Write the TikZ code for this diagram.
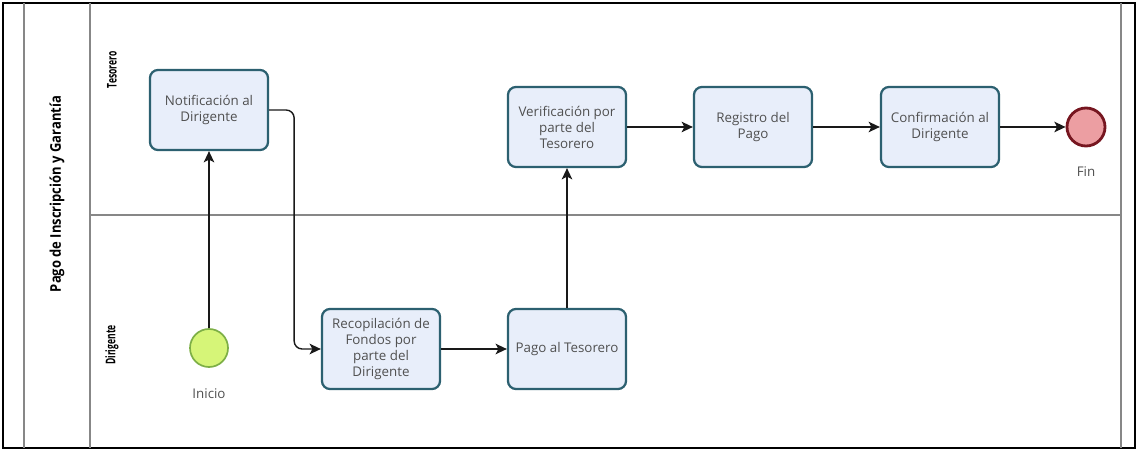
\documentclass[tikz,border=0pt]{standalone}
\usepackage{fontspec}
\setmainfont{Open Sans}
\usetikzlibrary{arrows.meta}
\definecolor{borde}{RGB}{44,96,112}
\definecolor{relleno}{RGB}{232,238,250}
\definecolor{texto}{RGB}{80,80,80}
\definecolor{linea}{RGB}{135,135,135}
\definecolor{verde}{RGB}{214,245,120}
\definecolor{verdeb}{RGB}{125,175,70}
\definecolor{rojo}{RGB}{236,158,162}
\definecolor{rojob}{RGB}{118,22,32}
\tikzset{
	tarea/.style={draw=borde,fill=relleno,line width=1.6pt,rounded corners=0.2cm,
		minimum width=2.95cm,minimum height=2cm,align=center,text=texto,
		font=\fontsize{9.5}{11.4}\selectfont},
	etiqueta/.style={text=texto,font=\fontsize{9.5}{11.4}\selectfont},
	carril/.style={rotate=90,font=\bfseries\fontsize{9.5}{11}\selectfont},
	flecha/.style={-{Stealth[length=8pt,width=7.5pt,inset=2pt]},line width=1pt,draw=black!90},
}
\begin{document}
\begin{tikzpicture}[x=0.025cm,y=-0.025cm]%Pago de Inscripción y Garantía
			\useasboundingbox (0,0) rectangle (1138,451);
			\draw[line width=1.5pt] (3,3) rectangle (1135,448);
			\foreach \x in {24,90,1121}
			\draw[linea,line width=1pt] (\x,3)--(\x,448);
			\draw[linea,line width=1pt] (90,215)--(1121,215);
			\node[rotate=90,font=\bfseries\fontsize{10.5}{12}\selectfont] (pool) at (57,194) {\scalebox{0.88}[1]{Pago de Inscripción y Garantía}};
			\node[carril] (tesorero) at (112,70) {\scalebox{0.64}[1]{Tesorero}};
			\node[carril] (dirigente) at (112,345) {\scalebox{0.64}[1]{Dirigente}};
			% eventos
			\node[circle,draw=verdeb,fill=verde,line width=1.2pt,minimum size=0.95cm] (inicio) at (209,348) {};
			\node[etiqueta] (tinicio) at (209,394) {Inicio};
			\node[circle,draw=rojob,fill=rojo,line width=2pt,minimum size=0.95cm] (fin) at (1086,127) {};
			\node[etiqueta] (tfin) at (1086,172) {Fin};
			% tareas
			\node[tarea] (notif) at (209,110) {Notificación al\\Dirigente};
			\node[tarea] (verif) at (567,127) {Verificación por\\parte del\\Tesorero};
			\node[tarea] (registro) at (753,127) {Registro del\\Pago};
			\node[tarea] (confirm) at (940,127) {Confirmación al\\Dirigente};
			\node[tarea] (recop) at (381,349) {Recopilación de\\Fondos por\\parte del\\Dirigente};
			\node[tarea] (pago) at (567,349) {Pago al Tesorero};
			% flujos
			\draw[flecha] (inicio)--(notif);
			\draw[flecha,rounded corners=0.2cm] (notif.east)--++(25,0)|-(recop.west);
			\draw[flecha] (recop)--(pago);
			\draw[flecha] (pago)--(verif);
			\draw[flecha] (verif)--(registro);
			\draw[flecha] (registro)--(confirm);
			\draw[flecha] (confirm)--(fin);
			\end{tikzpicture}
\end{document}
